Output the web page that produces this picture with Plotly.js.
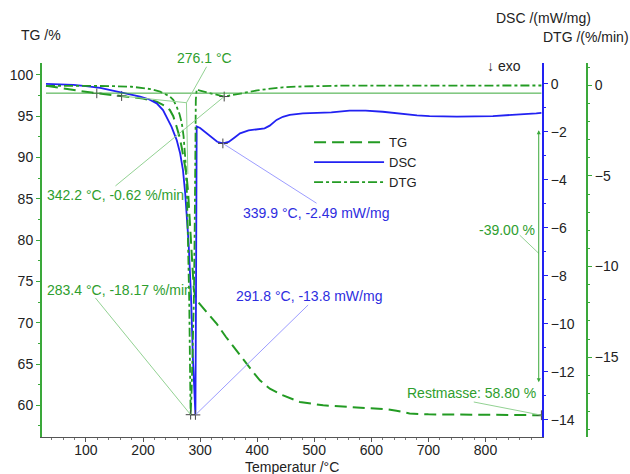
<!DOCTYPE html>
<html><head><meta charset="utf-8">
<script src="https://cdn.plot.ly/plotly-3.0.1.min.js"></script>
<style>html,body{margin:0;padding:0;background:#fff}#chart{width:630px;height:474px}</style>
</head><body><div id="chart"></div>
<script>
// TG curve (% , left axis)
const tgT = [30, 60, 90, 119, 162.5, 200, 224, 240, 247, 253, 259, 264, 267.6, 272, 276, 279, 281, 283, 285, 287, 289, 292, 296.5, 310, 328.9, 345, 358, 370, 381.4, 393, 404.7, 422.2, 445.5, 474.8, 515.6, 562.3, 609, 630, 644, 667, 700, 750, 800, 850, 898];
const tgV = [98.7, 98.35, 98.05, 97.78, 97.45, 97.15, 96.76, 96.2, 95.76, 95.0, 93.7, 92.5, 91.3, 89.8, 88.0, 85.8, 83.5, 80.5, 77.5, 75.4, 74.0, 73.1, 72.5, 71.4, 69.9, 68.3, 67.1, 66.0, 65.05, 64.0, 63.03, 62.0, 61.2, 60.4, 60.0, 59.8, 59.6, 59.5, 59.35, 59.0, 58.9, 58.88, 58.86, 58.83, 58.8];
// DSC curve (mW/mg, first right axis)
const dscT = [30, 50, 78, 100, 125, 147, 170, 195, 210, 224, 235, 241, 250, 259, 265, 270, 274, 280, 284, 287.5, 290, 291.8, 292.8, 293.4, 294, 300, 310, 320, 330, 339.9, 350, 360, 370, 385, 400, 413, 422, 434, 445, 457, 480, 504, 530, 562, 590, 620, 650, 680, 702, 750, 813, 860, 889, 898];
const dscV = [-0.01, -0.02, -0.05, -0.1, -0.18, -0.29, -0.4, -0.54, -0.65, -0.82, -1.1, -1.37, -1.8, -2.35, -2.9, -3.6, -4.6, -6.7, -8.8, -11.5, -13.0, -13.8, -9.0, -4.0, -1.78, -1.85, -2.05, -2.25, -2.42, -2.49, -2.43, -2.25, -2.07, -1.95, -1.9, -1.86, -1.75, -1.51, -1.38, -1.3, -1.24, -1.21, -1.2, -1.12, -1.12, -1.17, -1.25, -1.32, -1.35, -1.37, -1.35, -1.3, -1.24, -1.22];
// DTG curve (%/min, second right axis)
const dtgT = [30, 60, 100, 150, 180, 200, 215, 230, 240, 247, 253, 259, 264, 268, 271, 274, 277, 279, 281, 282.5, 283.4, 285, 287, 289, 290.5, 291.5, 292.5, 294, 296, 300, 310, 320, 330, 342.2, 355, 370, 387, 400, 420, 445, 470, 504, 550, 600, 700, 800, 898];
const dtgV = [-0.03, -0.02, -0.03, -0.05, -0.08, -0.15, -0.22, -0.35, -0.5, -0.62, -0.8, -1.18, -1.6, -2.1, -2.8, -4.0, -6.0, -8.5, -12.0, -16.0, -18.17, -17.0, -15.0, -12.0, -8.0, -3.5, -0.8, -0.22, -0.25, -0.3, -0.38, -0.46, -0.55, -0.62, -0.55, -0.45, -0.35, -0.28, -0.2, -0.11, -0.07, -0.04, -0.02, -0.02, -0.01, -0.01, -0.01];

// evaluated points ("+" markers)
const tgMarkT = [119, 162.5, 898], tgMarkV = [97.78, 97.45, 58.8];
const dscMarkT = [339.9, 291.8], dscMarkV = [-2.49, -13.8];
const dtgMarkT = [342.2, 283.4], dtgMarkV = [-0.62, -18.17];
const onsetT = 276.1, onsetV = 96.64, baselineTG = 97.8;
const massStart = 93.5, massEnd = 62.8, massT = 893.3;

const GREEN = '#239b23', GREEN_AX = '#3aa83a', GREEN_TXT = '#2e9e2e', PALE_G = '#93d293';
const BLUE = '#2222f2', BLUE_TXT = '#2d2de0', PALE_B = '#9d9dff';
const FONT = 'Liberation Sans, Arial, sans-serif';

const traces = [
  {x: tgT, y: tgV, name: 'TG', type: 'scatter', mode: 'lines', yaxis: 'y',
   line: {color: GREEN, width: 2, dash: '12px,6px'}},
  {x: dscT, y: dscV, name: 'DSC', type: 'scatter', mode: 'lines', yaxis: 'y2',
   line: {color: BLUE, width: 1.8}},
  {x: dtgT, y: dtgV, name: 'DTG', type: 'scatter', mode: 'lines', yaxis: 'y3',
   line: {color: GREEN, width: 1.8, dash: 'dashdot'}},
  {x: tgMarkT, y: tgMarkV, yaxis: 'y', mode: 'markers', showlegend: false, hoverinfo: 'skip',
   marker: {symbol: 'cross-thin', size: 7, line: {width: 1, color: '#444'}}},
  {x: dscMarkT, y: dscMarkV, yaxis: 'y2', mode: 'markers', showlegend: false, hoverinfo: 'skip',
   marker: {symbol: 'cross-thin', size: 7, line: {width: 1, color: '#444'}}},
  {x: dtgMarkT, y: dtgMarkV, yaxis: 'y3', mode: 'markers', showlegend: false, hoverinfo: 'skip',
   marker: {symbol: 'cross-thin', size: 7, line: {width: 1, color: '#444'}}}
];

function seg(x0, y0, x1, y1, yref, color) {
  return {type: 'line', xref: 'x', yref: yref, x0: x0, y0: y0, x1: x1, y1: y1,
          line: {color: color, width: 1}, layer: 'above'};
}
const shapes = [
  seg(30, baselineTG, 898, baselineTG, 'y', GREEN_AX),
  seg(tgMarkT[1], tgMarkV[1], onsetT, onsetV, 'y', PALE_G),
  seg(onsetT, onsetV, 278.5, 88, 'y', PALE_G),
  seg(onsetT, onsetV, 311.4, 101.0, 'y', PALE_G),
  seg(dtgMarkT[0], dtgMarkV[0], 151.7, -5.55, 'y3', PALE_G),
  seg(dtgMarkT[1], dtgMarkV[1], 116.6, -11.73, 'y3', PALE_G),
  seg(dscMarkT[1], dscMarkV[1], 489.3, -9.22, 'y2', PALE_B),
  seg(dscMarkT[0], dscMarkV[0], 504, -4.98, 'y2', PALE_B),
  seg(860, 80.6, massT, 78.4, 'y', PALE_G),
  seg(779.5, 60.4, tgMarkT[2], tgMarkV[2], 'y', PALE_G)
];

function txt(text, x, y, yref, color, anchor) {
  return {text: text, x: x, y: y, xref: 'x', yref: yref, showarrow: false,
          xanchor: anchor, yanchor: 'middle', font: {family: FONT, size: 14, color: color}};
}
function ptxt(text, x, y, anchor) {
  return {text: text, x: x, y: y, xref: 'paper', yref: 'paper', showarrow: false,
          xanchor: anchor || 'center', yanchor: 'middle', font: {family: FONT, size: 14, color: '#222'}};
}
const annotations = [
  ptxt('TG /%', -0.002, 1.075),
  ptxt('DSC /(mW/mg)', 0.920, 1.120),
  ptxt('DTG /(%/min)', 0.998, 1.0695),
  ptxt('Temperatur /°C', 0.4587, -0.080),
  ptxt('↓ exo', 0.8477, 0.992),
  txt(onsetT.toFixed(1) + ' °C', 308.4, 1.0134, 'paper', GREEN_TXT, 'center'),
  txt('342.2 °C, -0.62 %/min', 28.2, 85.45, 'y', GREEN_TXT, 'left'),
  txt('283.4 °C, -18.17 %/min', 28.2, 73.94, 'y', GREEN_TXT, 'left'),
  txt('291.8 °C, -13.8 mW/mg', 359.2, -8.85, 'y2', BLUE_TXT, 'left'),
  txt('339.9 °C, -2.49 mW/mg', 371.5, -5.39, 'y2', BLUE_TXT, 'left'),
  txt('-39.00 %', 889.8, 81.2, 'y', GREEN_TXT, 'right'),
  txt('Restmasse: 58.80 %', 891.6, 61.45, 'y', GREEN_TXT, 'right'),
  {text: '', x: massT, y: massEnd, ax: massT, ay: massStart, xref: 'x', yref: 'y', axref: 'x', ayref: 'y',
   showarrow: true, arrowhead: 2, arrowside: 'end+start', arrowsize: 0.8, arrowwidth: 1, arrowcolor: GREEN_AX}
];

const tickFont = {family: FONT, size: 14, color: '#222'};
const layout = {
  width: 630, height: 474,
  margin: {l: 42, r: 43, t: 63, b: 37},
  paper_bgcolor: '#fff', plot_bgcolor: '#fff',
  showlegend: true,
  legend: {x: 0.49, y: 0.828, xanchor: 'left', yanchor: 'top', bgcolor: 'rgba(0,0,0,0)',
           font: {family: FONT, size: 13, color: '#222'}, itemwidth: 70, tracegroupgap: 0},
  xaxis: {range: [23, 899], domain: [0, 0.9174], dtick: 100, tick0: 0, showgrid: false, zeroline: false,
          showline: true, linecolor: '#555', linewidth: 1, ticks: 'outside', ticklen: 4, tickcolor: '#555',
          ticklabelstandoff: -4,
          minor: {dtick: 20, tick0: 0, ticks: 'outside', ticklen: 2, tickcolor: '#777'},
          tickfont: tickFont, anchor: 'y'},
  yaxis: {range: [56.16, 101.45], dtick: 5, tick0: 0, showgrid: false, zeroline: false,
          showline: true, linecolor: GREEN_AX, linewidth: 2, ticks: 'outside', ticklen: 4, tickcolor: GREEN_AX,
          minor: {dtick: 2.5, tick0: 0, ticks: 'outside', ticklen: 2, tickcolor: GREEN_AX},
          tickfont: tickFont},
  yaxis2: {range: [-14.72, 0.86], dtick: 2, tick0: 0, overlaying: 'y', side: 'right', anchor: 'x',
           showgrid: false, zeroline: false, showline: true, linecolor: BLUE, linewidth: 2,
           ticks: 'outside', ticklen: 4, tickcolor: BLUE,
           minor: {dtick: 1, tick0: 0, ticks: 'outside', ticklen: 2, tickcolor: BLUE},
           tickfont: tickFont},
  yaxis3: {range: [-19.4, 1.23], dtick: 5, tick0: 0, overlaying: 'y', side: 'right', anchor: 'free', position: 1,
           showgrid: false, zeroline: false, showline: true, linecolor: GREEN_AX, linewidth: 2,
           ticks: 'outside', ticklen: 4, tickcolor: GREEN_AX,
           minor: {dtick: 1, tick0: 0, ticks: 'outside', ticklen: 2, tickcolor: GREEN_AX},
           tickfont: tickFont},
  shapes: shapes,
  annotations: annotations
};
Plotly.newPlot('chart', traces, layout, {displayModeBar: false, staticPlot: true});
</script></body></html>
